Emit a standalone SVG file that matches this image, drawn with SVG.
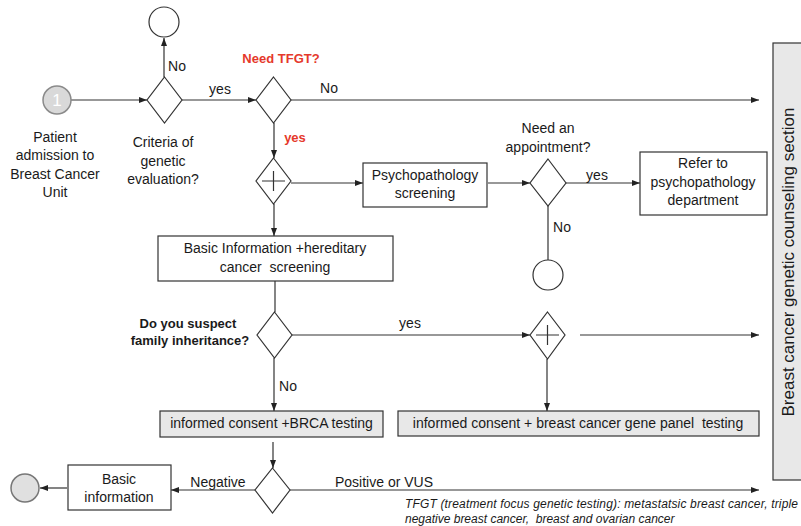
<svg xmlns="http://www.w3.org/2000/svg" width="801" height="526" viewBox="0 0 801 526">
<defs>
<marker id="ah" markerUnits="userSpaceOnUse" markerWidth="8" markerHeight="7" refX="8" refY="3.5" orient="auto">
<path d="M0,0.5 L8,3.5 L0,6.5 z" fill="#222"/>
</marker>
<style>
.t{font-family:"Liberation Sans",Arial,sans-serif;font-size:14px;fill:#1a1a1a;text-anchor:middle}
.b{font-weight:bold;font-size:13px}
.red{fill:#e5392b}
.box{fill:#fff;stroke:#333;stroke-width:1.2}
.gbox{fill:#e8e8e8;stroke:#333;stroke-width:1.2}
.dia{fill:#fff;stroke:#333;stroke-width:1.2}
.end{fill:#fff;stroke:#333;stroke-width:1.2}
.c{fill:none;stroke:#333;stroke-width:1.2}
.ca{fill:none;stroke:#333;stroke-width:1.2;marker-end:url(#ah)}
.fn{font-family:"Liberation Sans",Arial,sans-serif;font-size:12px;font-style:italic;fill:#1a1a1a;white-space:pre}
</style>
</defs>
<rect width="801" height="526" fill="#fff"/>

<g id="connectors">
<line class="ca" x1="71" y1="100" x2="147" y2="100"/>
<line class="ca" x1="164" y1="77" x2="164" y2="38"/>
<line class="ca" x1="182" y1="100" x2="256" y2="100"/>
<line class="ca" x1="291" y1="100" x2="759" y2="100"/>
<line class="ca" x1="274" y1="123" x2="274" y2="158"/>
<line class="ca" x1="291" y1="183" x2="363" y2="183"/>
<line class="ca" x1="488" y1="183" x2="530" y2="183"/>
<line class="ca" x1="566" y1="183" x2="640" y2="183"/>
<line class="c" x1="548" y1="206" x2="548" y2="260"/>
<line class="ca" x1="274" y1="204" x2="274" y2="236"/>
<line class="c" x1="275" y1="281" x2="275" y2="312"/>
<line class="ca" x1="292" y1="335" x2="530" y2="335"/>
<line class="ca" x1="580" y1="335" x2="759" y2="335"/>
<line class="ca" x1="547" y1="359" x2="547" y2="411"/>
<line class="ca" x1="274" y1="358" x2="274" y2="411"/>
<line class="ca" x1="273" y1="442" x2="273" y2="468"/>
<line class="ca" x1="255" y1="490" x2="171" y2="490"/>
<line class="ca" x1="67" y1="488" x2="40" y2="488"/>
<line class="ca" x1="290" y1="490" x2="759" y2="490"/>
</g>

<g id="start">
<circle cx="57" cy="100" r="14" fill="#d9d9d9" stroke="#8a8a8a" stroke-width="1.5"/>
<text class="t" x="57" y="106" style="fill:#fff;font-size:17px">1</text>
<text class="t" x="55" y="142">Patient</text>
<text class="t" x="55" y="160">admission to</text>
<text class="t" x="55" y="179">Breast Cancer</text>
<text class="t" x="55" y="197">Unit</text>
</g>

<g id="criteria">
<polygon class="dia" points="164.5,77 182,100 164.5,123 147,100"/>
<text class="t" x="163" y="147">Criteria of</text>
<text class="t" x="163" y="166">genetic</text>
<text class="t" x="163" y="184">evaluation?</text>
<text class="t" x="177" y="71">No</text>
<text class="t" x="220" y="94">yes</text>
</g>

<g id="end-top">
<circle class="end" cx="164" cy="22" r="15"/>
</g>

<g id="tfgt">
<polygon class="dia" points="273.5,77 291,100 273.5,123 256,100"/>
<text class="t b red" x="281" y="63">Need TFGT?</text>
<text class="t" x="329" y="93">No</text>
<text class="t b red" x="295" y="142">yes</text>
</g>

<g id="gateway1">
<polygon class="dia" points="273.5,158 291,181 273.5,204 256,181"/>
<path class="c" d="M262,181 H285 M273.5,171 V191"/>
</g>

<g id="psych">
<rect class="box" x="363" y="163" width="124" height="44"/>
<text class="t" x="425" y="180">Psychopathology</text>
<text class="t" x="425" y="198">screening</text>
</g>

<g id="appointment">
<polygon class="dia" points="548,159 566,183 548,206 530,183"/>
<text class="t" x="548" y="133">Need an</text>
<text class="t" x="548" y="152">appointment?</text>
<text class="t" x="597" y="180">yes</text>
<text class="t" x="562" y="232">No</text>
</g>

<g id="refer">
<rect class="box" x="640" y="152" width="127" height="63"/>
<text class="t" x="703" y="168">Refer to</text>
<text class="t" x="703" y="187">psychopathology</text>
<text class="t" x="703" y="205">department</text>
</g>

<g id="end-appointment">
<circle class="end" cx="548" cy="275" r="15"/>
</g>

<g id="basic-screening">
<rect class="box" x="158" y="236" width="235" height="45"/>
<text class="t" x="275" y="253">Basic Information +hereditary</text>
<text class="t" x="275" y="272" style="white-space:pre">cancer  screening</text>
</g>

<g id="suspect">
<polygon class="dia" points="274.5,312 292,335 274.5,358 257,335"/>
<text class="t b" x="188" y="328">Do you suspect</text>
<text class="t b" x="190" y="345">family inheritance?</text>
<text class="t" x="410" y="328">yes</text>
<text class="t" x="288" y="391">No</text>
</g>

<g id="gateway2">
<polygon class="dia" points="547.5,312 565,335 547.5,359 530,335"/>
<path class="c" d="M536,335 H559 M547.5,325 V345"/>
</g>

<g id="brca">
<rect class="gbox" x="160" y="411" width="223" height="26"/>
<text class="t" x="271.5" y="428">informed consent +BRCA testing</text>
</g>

<g id="panel">
<rect class="gbox" x="398" y="411" width="361" height="25"/>
<text class="t" x="578" y="428" style="white-space:pre">informed consent + breast cancer gene panel  testing</text>
</g>

<g id="result">
<polygon class="dia" points="272.5,468 290,490 272.5,513 255,490"/>
<text class="t" x="218" y="487">Negative</text>
<text class="t" x="384" y="487">Positive or VUS</text>
</g>

<g id="basic-info">
<rect class="box" x="68" y="465" width="103" height="45"/>
<text class="t" x="119" y="484">Basic</text>
<text class="t" x="119" y="502">information</text>
</g>

<g id="end-bottom">
<circle cx="25" cy="488" r="14" fill="#e0e0e0" stroke="#777" stroke-width="1.5"/>
</g>

<g id="section">
<rect x="773" y="43" width="40" height="437" fill="#e8e8e8" stroke="#333" stroke-width="1.2"/>
<text class="t" transform="translate(794,262) rotate(-90)" style="font-size:17px">Breast cancer genetic counseling section</text>
</g>

<g id="footnote">
<text class="fn" x="405" y="508" textLength="393" lengthAdjust="spacing">TFGT (treatment focus genetic testing): metastatsic breast cancer, triple</text>
<text class="fn" x="405" y="523">negative breast cancer,  breast and ovarian cancer</text>
</g>
</svg>
